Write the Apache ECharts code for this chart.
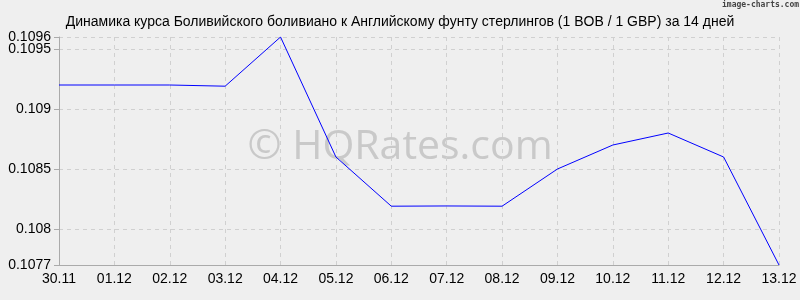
<!DOCTYPE html>
<html><head><meta charset="utf-8">
<script src="https://cdn.jsdelivr.net/npm/echarts@6/dist/echarts.min.js"></script>
<style>html,body{margin:0;padding:0;background:#efefef}#c{width:800px;height:300px}</style>
</head><body><div id="c"></div>
<script>
const categories = ['30.11','01.12','02.12','03.12','04.12','05.12','06.12','07.12','08.12','09.12','10.12','11.12','12.12','13.12'];
const values = [0.1092,0.1092,0.1092,0.10919,0.1096,0.1086,0.10819,0.108192,0.10819,0.1085,0.1087,0.1088,0.1086,0.1077];
const yTicks = [0.1077,0.108,0.1085,0.109,0.1095];
const yTopTick = [0.1096];
const yMin = 0.1077, yMax = 0.1096;
const titleText = 'Динамика курса Боливийского боливиано к Английскому фунту стерлингов (1 BOB / 1 GBP) за 14 дней';

const labelStyle = {hideOverlap:false,color:'#000',fontFamily:'Liberation Sans, Arial',fontSize:14,margin:8};
const chart = echarts.init(document.getElementById('c'));
chart.setOption({
  backgroundColor:'#efefef',
  animation:false,
  title:{text:titleText,left:'center',top:10,textStyle:{fontFamily:'Liberation Sans, Arial',fontSize:14,fontWeight:'normal',color:'#000'}},
  graphic:[
    {type:'text',left:722,top:1,style:{text:'image-charts.com',font:'bold 8px "DejaVu Sans Mono", monospace',fill:'#444'}},
    {type:'text',x:400,y:147,style:{text:'© HQRates.com',font:'41px "Open Sans"',fill:'#c9c9c9',textAlign:'center',textVerticalAlign:'middle'},z:0}
  ],
  grid:{left:59,right:21,top:37,bottom:35},
  xAxis:{type:'category',data:categories,boundaryGap:false,
    axisLine:{lineStyle:{color:'#aaa'}},axisTick:{show:false},
    axisLabel:{color:'#000',fontFamily:'Liberation Sans, Arial',fontSize:14,margin:7},
    splitLine:{show:true,lineStyle:{color:'#d0d0d0',type:[4,4]}}},
  yAxis:[
    {type:'value',min:yMin,max:yMax,position:'left',
      axisLine:{show:true,lineStyle:{color:'#aaa'}},
      axisTick:{show:true,length:5,customValues:yTicks,lineStyle:{color:'#aaa'}},
      axisLabel:Object.assign({customValues:yTicks},labelStyle),
      splitLine:{show:true,lineStyle:{color:'#d0d0d0',type:[4,4]}}},
    {type:'value',min:yMin,max:yMax,position:'left',offset:0,
      axisLine:{show:false},
      axisTick:{show:true,length:5,customValues:yTopTick,lineStyle:{color:'#aaa'}},
      axisLabel:Object.assign({customValues:yTopTick},labelStyle),
      splitLine:{show:true,lineStyle:{color:'#d0d0d0',type:[4,4]}}}
  ],
  series:[{type:'line',data:values,yAxisIndex:0,symbol:'none',lineStyle:{color:'#0000ff',width:1},z:5}]
});
</script></body></html>
